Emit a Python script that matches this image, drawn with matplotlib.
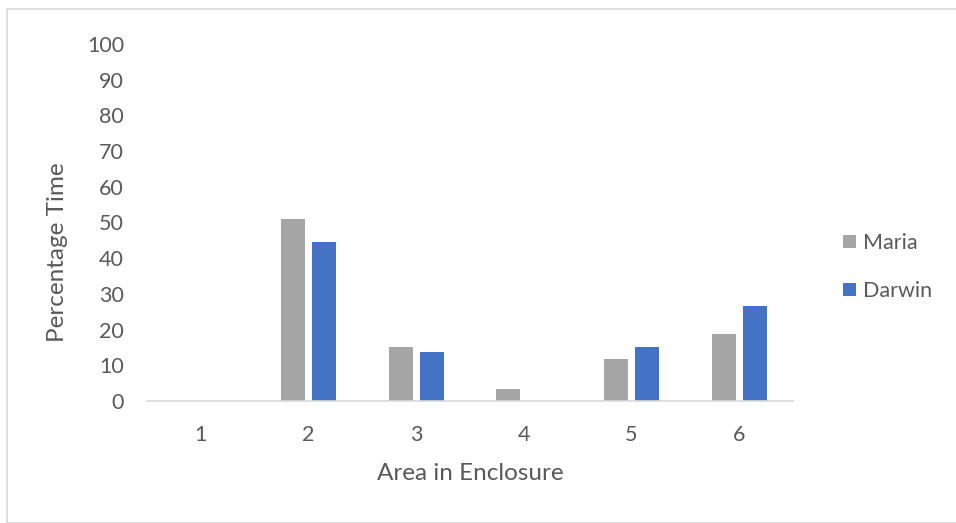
import matplotlib
matplotlib.use("Agg")
import matplotlib.pyplot as plt
import numpy as np
from matplotlib.patches import Rectangle

categories = ["1", "2", "3", "4", "5", "6"]
maria = [0, 51, 15.2, 3.4, 11.8, 18.8]
darwin = [0, 44.6, 13.8, 0, 15.1, 26.7]
series_names = ["Maria", "Darwin"]
colors = ["#a5a5a5", "#4472c4"]
yticks = list(range(0, 101, 10))

plt.rcParams['font.family'] = ['Lato', 'DejaVu Sans']
txt = "#595959"

fig = plt.figure(figsize=(9.56, 5.23), dpi=100)
fig.patches.append(Rectangle((7/956, 0), 1, 1 - 9/523, transform=fig.transFigure,
                             fill=False, edgecolor="#d9d9d9", linewidth=1.2))
ax = fig.add_axes([147/956, 1 - 401/523, (793-147)/956, (401-44)/523])

x = np.arange(1, len(categories) + 1)
w = 0.223
off = 0.143
b1 = ax.bar(x - off, maria, w, color=colors[0], label=series_names[0])
b2 = ax.bar(x + off, darwin, w, color=colors[1], label=series_names[1])

ax.set_xlim(0.5, 6.5)
ax.set_ylim(0, 100)
ax.set_yticks(yticks)
ax.set_xticks(x)
ax.set_xticklabels(categories)
for s in ["top", "right", "left"]:
    ax.spines[s].set_visible(False)
ax.spines["bottom"].set_color("#d9d9d9")
ax.spines["bottom"].set_linewidth(1.2)
ax.tick_params(axis="both", length=0, colors=txt, labelsize=15.5)
ax.tick_params(axis="y", pad=16.5)
ax.tick_params(axis="x", pad=17)
ax.set_ylabel("Percentage Time", fontsize=17.5, color=txt, va="center")
ax.set_xlabel("Area in Enclosure", fontsize=17.5, color=txt, va="center")
ax.yaxis.set_label_coords((57 - 147) / 646, (401 - 252) / 357)
ax.xaxis.set_label_coords((470 - 147) / 646, (401 - 473) / 357)

leg = fig.legend(handles=[b1, b2], loc="center left", bbox_to_anchor=(824/956, 1 - 267/523),
                 frameon=False, fontsize=15.5, handlelength=0.6, handleheight=0.6,
                 labelspacing=1.3, handletextpad=0.3)
for t in leg.get_texts():
    t.set_color(txt)

fig.savefig("out.png", dpi=100)
